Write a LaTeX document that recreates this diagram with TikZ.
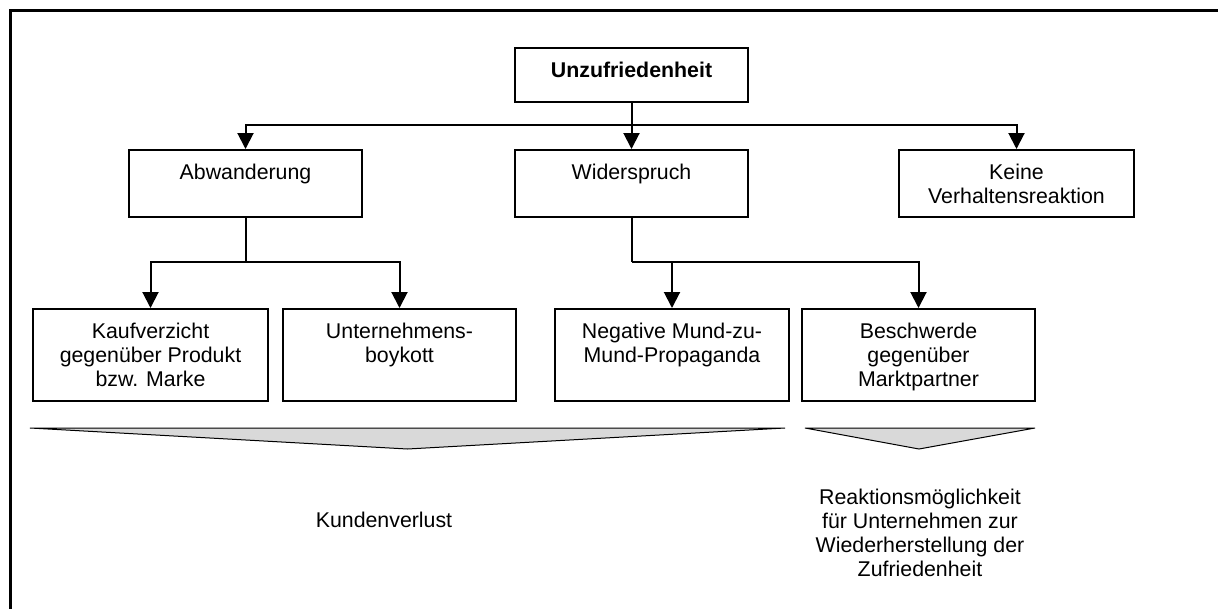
\documentclass[tikz,border=0pt]{standalone}
\usepackage{fontspec}
\setmainfont{Liberation Sans}
\usetikzlibrary{arrows.meta}
% box content: fixed width and height, text hanging from the top edge
\newcommand\boxtext[3]{\parbox[c][#2][t]{#1}{\centering\rule{0pt}{22pt}#3}}
\begin{document}
\begin{tikzpicture}[x=0.75pt,y=-0.75pt,
  box/.style={draw, line width=1.5pt, inner sep=0pt, anchor=north},
  conn/.style={line width=1.5pt},
  arr/.style={conn, -{Triangle[length=12pt,width=12pt]}},
  wedge/.style={draw, line width=0.75pt, fill=black!15, line join=miter},
  font=\fontsize{16}{18}\selectfont]
\clip (0,0) rectangle (1218,608);
\fill[white] (0,0) rectangle (1218,608);

% frame (top and left edges)
\draw[line width=2.25pt] (1240,10.5) -- (10.5,10.5) -- (10.5,640);

% top level
\node[box] (unz) at (631.5,47) {\boxtext{174.75pt}{40.5pt}{\textbf{Unzufriedenheit}}};

% second level
\node[box] (abw) at (245.5,149) {\boxtext{174.75pt}{50.25pt}{Abwanderung}};
\node[box] (wid) at (631.5,149) {\boxtext{174.75pt}{50.25pt}{Widerspruch}};
\node[box] (kei) at (1016.5,149) {\boxtext{176.25pt}{50.25pt}{Keine\\Verhaltensreaktion}};

% third level
\node[box] (kauf) at (150.5,308) {\boxtext{176.25pt}{69pt}{Kaufverzicht\\gegenüber Produkt\\bzw. Marke}};
\node[box] (unt) at (399.5,308) {\boxtext{174.75pt}{69pt}{Unternehmens-\\boykott}};
\node[box] (neg) at (672,308) {\boxtext{175.5pt}{69pt}{Negative Mund-zu-\\Mund-Propaganda}};
\node[box] (bes) at (918.5,308) {\boxtext{174.75pt}{69pt}{Beschwerde\\gegenüber\\Marktpartner}};

% connectors
\coordinate (bar1) at (631.5,125);
\coordinate (bar2) at (245.5,262);
\coordinate (bar3) at (631.5,262);
\draw[arr] (unz.south) -- (wid.north);
\draw[arr] (bar1) -| (abw.north);
\draw[arr] (bar1) -| (kei.north);
\draw[conn] (abw.south) -- (bar2);
\draw[arr] (bar2) -| (kauf.north);
\draw[arr] (bar2) -| (unt.north);
\draw[conn] (wid.south) -- (bar3);
\draw[arr] (bar3) -| (neg.north);
\draw[arr] (bar3) -| (bes.north);

% grouping wedges
\path[wedge] (30,428) -- (785,428) -- (407.5,449) -- cycle;
\path[wedge] (805,428) -- (1035,428) -- (919,449) -- cycle;

% outcomes
\node (kv) at (384,520) {Kundenverlust};
\node[align=center] (rk) at (920,533) {Reaktionsmöglichkeit\\für Unternehmen zur\\Wiederherstellung der\\Zufriedenheit};
\end{tikzpicture}
\end{document}
